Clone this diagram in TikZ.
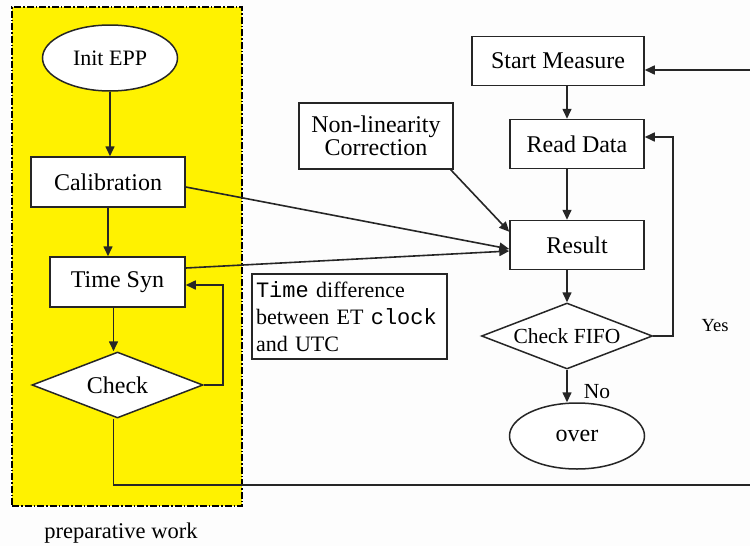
\documentclass[tikz,border=0pt]{standalone}
\usepackage{fontspec}
\setmainfont{Liberation Serif}
\setmonofont{Liberation Mono}
\usetikzlibrary{shapes.geometric,arrows.meta,calc}
\begin{document}
\begin{tikzpicture}[x=1pt,y=-1pt,
  every node/.style={font=\fontsize{24}{28}\selectfont},
  box/.style={draw=black!85,line width=1.5pt,fill=white,inner sep=0pt},
  oval/.style={box,ellipse,minimum width=135pt,minimum height=66pt},
  dec/.style={box,diamond,aspect=2.6,minimum width=171pt,minimum height=66pt},
  arr/.style={draw=black!85,line width=1.6pt,-{Triangle[length=10pt,width=9pt]}},
  ln/.style={draw=black!85,line width=1.6pt},
  lbl/.style={inner sep=0pt}]
\useasboundingbox (0,0) rectangle (750,546);
\fill[white!99.3!black] (0,0) rectangle (750,546);
% preparative region
\node[draw=black,fill=yellow,line width=1.1pt,dash pattern=on 7pt off 2pt on 1.5pt off 2pt,
  minimum width=230pt,minimum height=499pt,inner sep=0pt] (prep) at (127,256.5) {};
\node[lbl,font=\fontsize{22.5}{26}\selectfont] (preplbl) at (121,533) {preparative work};
% left column
\node[oval,font=\fontsize{22}{26}\selectfont] (init) at (110,58) {Init EPP};
\node[box,minimum width=154pt,minimum height=50pt] (calib) at (108,182) {Calibration};
\node[box,minimum width=135pt,minimum height=50pt] (tsyn) at (117.5,282) {Time Syn};
\node[dec] (check) at (117.5,385) {Check};
% middle
\node[box,minimum width=154pt,minimum height=66pt,align=center] (nonlin) at (376,136)
  {Non-linearity\\[-5pt]Correction};
\node[box,minimum width=195pt,minimum height=85pt,text width=187pt,align=left,
  font=\fontsize{22}{27}\selectfont] (tdiff) at (349.5,316.5)
  {\texttt{Time} difference\\ between ET \texttt{clock}\\ and UTC};
% right column
\node[box,minimum width=172pt,minimum height=49pt] (start) at (558,61) {Start Measure};
\node[box,minimum width=134pt,minimum height=49pt] (read) at (577,144) {Read Data};
\node[box,minimum width=134pt,minimum height=49pt] (result) at (577,245) {Result};
\node[dec,font=\fontsize{21.5}{25}\selectfont] (fifo) at (567,336) {Check FIFO};
\node[oval] (over) at (577,436) {over};
\node[lbl,font=\fontsize{18.5}{22}\selectfont] (yes) at (715,326) {Yes};
\node[lbl,font=\fontsize{21.5}{25}\selectfont] (no) at (597,392) {No};
\coordinate (colL) at (567,0);
\coordinate (r1) at (750,485);
\coordinate (r2) at (750,70);
% connectors left
\draw[arr] (init.south) -- (init.south |- calib.north);
\draw[arr] (calib.south) -- (calib.south |- tsyn.north);
\draw[arr] ([xshift=-4pt]tsyn.south) -- ([xshift=-4pt]check.north);
\draw[arr] (check.east) -- ++(19,0) |- ([yshift=-3pt]tsyn.east);
\draw[ln] ([xshift=-4pt]check.south) |- (r1);
% connectors right
\draw[arr] (r2) -- (r2 -| start.east);
\draw[arr] (start.south -| colL) -- (read.north -| colL);
\draw[arr] (read.south -| colL) -- (result.north -| colL);
\draw[arr] (result.south -| colL) -- (fifo.north);
\draw[arr] (fifo.south) -- (fifo.south |- over.north);
\draw[arr] (fifo.east) -- ++(20,0) |- ([yshift=7pt]read.east);
% into result
\draw[arr] ([xshift=-3pt]nonlin.south east) -- ([yshift=-12pt]result.north west);
\draw[arr] ([yshift=-5pt]calib.east) -- ([yshift=-4pt]result.west);
\draw[arr] ([yshift=14pt]tsyn.east) -- ([yshift=-6pt]result.west);
\end{tikzpicture}
\end{document}
